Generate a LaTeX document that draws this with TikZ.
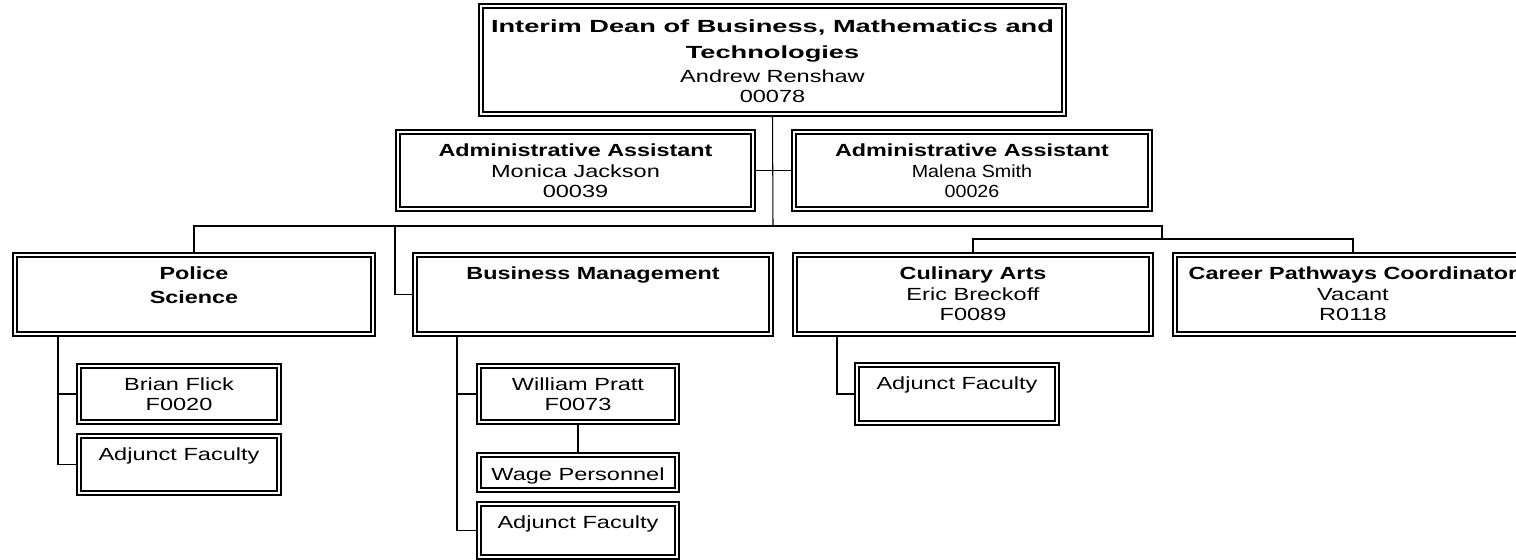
\documentclass[tikz,border=0pt]{standalone}
\usepackage{fontspec}
\setmainfont{Liberation Sans}[FakeStretch=1.34]
\newfontfamily\titlefam{Liberation Sans}[FakeStretch=1.55]
\newfontfamily\headfam{Liberation Sans}[FakeStretch=1.33]
\newfontfamily\narrowfam{Liberation Sans}[FakeStretch=1.12]
\usetikzlibrary{positioning,calc}

\newlength{\px}
\setlength{\px}{0.02cm}

% text blocks inside the boxes
\newcommand{\titletext}[1]{\vspace*{8.5pt}{\titlefam\bfseries\fontsize{10}{14.3}\selectfont\rule{0pt}{8pt}#1\par}\vspace{2.6pt}}
\newcommand{\headtext}[1]{\vspace*{6.8pt}{\headfam\bfseries\fontsize{10}{13.7}\selectfont\rule{0pt}{8pt}#1\par}\vspace{0.6pt}}
\newcommand{\nametext}[1]{{\fontsize{10}{11.4}\selectfont #1\par}}
\newcommand{\narrowtext}[1]{{\narrowfam\fontsize{10}{11.4}\selectfont #1\par}}
\newcommand{\plaintext}[2][6.8pt]{\vspace*{#1}{\fontsize{10}{11.4}\selectfont\rule{0pt}{8pt}#2\par}}

\begin{document}
\begin{tikzpicture}[
    x=0.02cm,y=-0.02cm,
    orgbox/.style 2 args={draw,line width=0.6pt,inner sep=0pt,outer sep=0pt,fill=white,
      path picture={\draw[line width=1.5pt] ([xshift=2.2pt,yshift=2.2pt]path picture bounding box.south west) rectangle ([xshift=-2.2pt,yshift=-2.2pt]path picture bounding box.north east);},
      execute at begin node={\begin{minipage}[c][#2\px][t]{#1\px}\centering},
      execute at end node={\end{minipage}}},
    link/.style={draw,line width=0.6pt}
  ]
    \path[use as bounding box,fill=white] (0,0) rectangle (1516,560);
    \clip (0,0) rectangle (1516,560);

    % Dean and assistants
    \node[orgbox={587}{112}] (dean) at (772.5,60) {\titletext{Interim Dean of Business, Mathematics and\\Technologies}\nametext{Andrew Renshaw\\00078}};
    \node[orgbox={359}{81}] (asstl) at (575.5,170.5) {\headtext{Administrative Assistant}\nametext{Monica Jackson\\00039}};
    \node[orgbox={360}{81}] (asstr) at (972,170.5) {\headtext{Administrative Assistant}\narrowtext{Malena Smith\\00026}};

    % Departments
    \node[orgbox={362}{83}] (police) at (194,294.5) {\headtext{Police\\Science}};
    \node[orgbox={360}{83}] (busmgmt) at (593,294.5) {\headtext{Business Management}};
    \node[orgbox={360}{83}] (culinary) at (973,294.5) {\headtext{Culinary Arts}\nametext{Eric Breckoff\\F0089}};
    \node[orgbox={360}{83}] (career) at (1353,294.5) {\headtext{Career Pathways Coordinator}\nametext{Vacant\\R0118}};

    % Faculty and staff
    \node[orgbox={204}{60}] (flick) at (179,394) {\plaintext{Brian Flick\\F0020}};
    \node[orgbox={204}{61}] (policeadj) at (179,464.5) {\plaintext{Adjunct Faculty}};
    \node[orgbox={202}{60}] (pratt) at (578,394) {\plaintext{William Pratt\\F0073}};
    \node[orgbox={202}{39}] (wage) at (578,472.5) {\plaintext[7.5pt]{Wage Personnel}};
    \node[orgbox={202}{57}] (busadj) at (578,530.5) {\plaintext{Adjunct Faculty}};
    \node[orgbox={204}{62}] (culadj) at (957,394) {\plaintext{Adjunct Faculty}};

    % Connections
    \coordinate (bus) at (773,226);
    \coordinate (bus2) at (1162,239);
    \draw[link] (dean.south) -- (bus);
    \draw[link] (asstl.east) -- (asstr.west);
    \draw[link] (bus) -| (police.north);
    \draw[link] (bus) -| ([xshift=-18\px]busmgmt.west) -- (busmgmt.west);
    \draw[link] (bus) -| (bus2);
    \draw[link] (culinary.north) |- (bus2) -| (career.north);
    \draw[link] ([xshift=45\px]police.south west) |- (flick.west);
    \draw[link] ([xshift=45\px]police.south west) |- (policeadj.west);
    \draw[link] ([xshift=44\px]busmgmt.south west) |- (pratt.west);
    \draw[link] ([xshift=44\px]busmgmt.south west) |- (busadj.west);
    \draw[link] (pratt.south) -- (wage.north);
    \draw[link] ([xshift=44\px]culinary.south west) |- (culadj.west);
  \end{tikzpicture}
\end{document}
